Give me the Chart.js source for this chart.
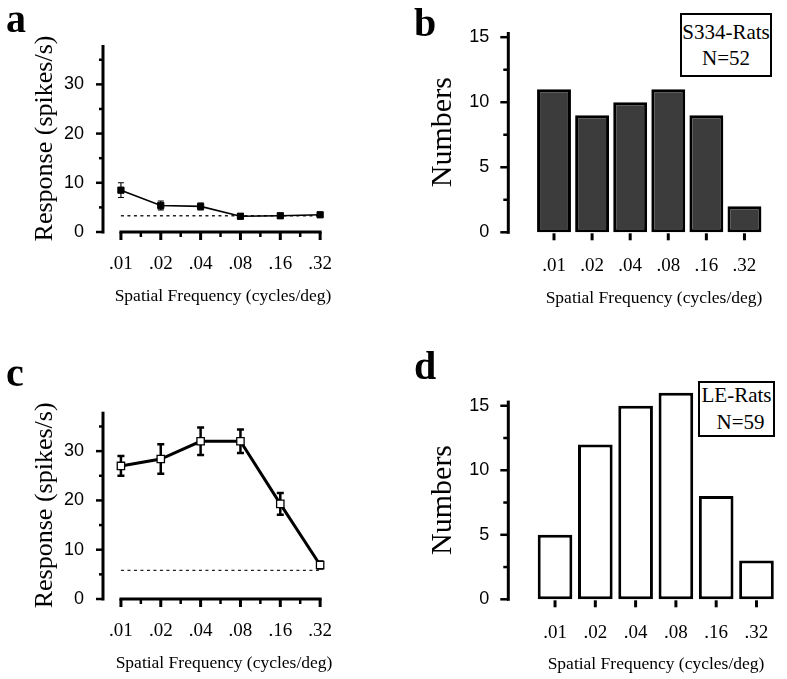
<!DOCTYPE html>
<html><head><meta charset="utf-8">
<script src="https://cdn.jsdelivr.net/npm/chart.js@4.4.1/dist/chart.umd.min.js"></script>
<style>
html,body{margin:0;padding:0;background:#fff;width:787px;height:679px;overflow:hidden;position:relative;}
canvas{position:absolute;}
.lab{position:absolute;font-family:"Liberation Serif",serif;font-weight:bold;font-size:40px;line-height:1;color:#000;}
.box{position:absolute;box-sizing:border-box;border:2px solid #000;font-family:"Liberation Serif",serif;font-size:21px;color:#000;background:#fff;}
.box span{position:absolute;left:0;right:0;text-align:center;line-height:24px;white-space:nowrap;}
.xt{position:absolute;width:300px;text-align:center;font-family:"Liberation Serif",serif;font-size:17.5px;line-height:21px;color:#000;white-space:nowrap;}
</style></head><body>
<canvas id="ca" width="345" height="320" style="left:0;top:0;width:345px;height:320px"></canvas>
<canvas id="cb" width="394" height="330" style="left:393px;top:0;width:394px;height:330px"></canvas>
<canvas id="cc" width="345" height="329" style="left:0;top:350px;width:345px;height:329px"></canvas>
<canvas id="cd" width="394" height="329" style="left:393px;top:350px;width:394px;height:329px"></canvas>
<div class="lab" style="left:6px;top:-1px">a</div>
<div class="lab" style="left:414px;top:3px">b</div>
<div class="lab" style="left:6px;top:353px">c</div>
<div class="lab" style="left:414px;top:346px">d</div>
<div class="xt" style="left:73px;top:285px">Spatial Frequency (cycles/deg)</div>
<div class="xt" style="left:504px;top:287px">Spatial Frequency (cycles/deg)</div>
<div class="xt" style="left:74px;top:652px">Spatial Frequency (cycles/deg)</div>
<div class="xt" style="left:506px;top:653px">Spatial Frequency (cycles/deg)</div>
<div class="box" style="left:680px;top:13px;width:92px;height:64px"><span style="top:5px">S334-Rats</span><span style="top:31px">N=52</span></div>
<div class="box" style="left:698px;top:381px;width:77px;height:56px"><span style="top:0px">LE-Rats</span><span style="top:27px;padding-left:8px">N=59</span></div>
<script>
// ---- data ----
const freqLabels = ['.01', '.02', '.04', '.08', '.16', '.32'];
// panel a: S334 rats, mean response (spikes/s) and error
const s334Response = [8.5, 5.4, 5.2, 3.2, 3.3, 3.5];
const s334Error = [1.5, 0.9, 0.7, 0.5, 0.5, 0.4];
const s334Spont = 3.3;
// panel c: LE rats
const leResponse = [27.0, 28.4, 32.0, 32.0, 19.3, 6.9];
const leError = [2.0, 3.0, 2.8, 2.4, 2.2, 0.7];
const leSpont = 5.8;
// panels b, d: number of cells per preferred spatial frequency
const s334Counts = [11, 9, 10, 11, 9, 2];
const leCounts = [5, 12, 15, 16, 8, 3];
// axis ticks
const responseTicks = [0, 10, 20, 30];
const countTicks = [0, 5, 10, 15];

const SERIF = '"Liberation Serif", "Times New Roman", serif';
const SANS = '"Liberation Sans", Arial, sans-serif';

function minorsOf(majors, max) {
  const step = majors[1] - majors[0];
  return majors.map(m => m + step / 2).filter(v => v <= max);
}

const axisPlugin = {
  id: 'axisDraw',
  beforeDatasetsDraw(chart, args, o) {
    const {ctx, chartArea: ca, scales: {x, y}} = chart;
    const y0 = y.getPixelForValue(0);
    const seg = (x1, y1, x2, y2, w) => { ctx.lineWidth = w; ctx.beginPath(); ctx.moveTo(x1, y1); ctx.lineTo(x2, y2); ctx.stroke(); };
    ctx.save();
    ctx.strokeStyle = '#000'; ctx.lineCap = 'butt';
    seg(ca.left, y0 + 1.5, ca.left, ca.top, o.axisWidth);
    o.yMajor.forEach(v => { const p = y.getPixelForValue(v); seg(ca.left - o.yMajorLen, p, ca.left, p, 2.5); });
    o.yMinor.forEach(v => { const p = y.getPixelForValue(v); seg(ca.left - o.yMinorLen, p, ca.left, p, 2.5); });
    const n = freqLabels.length;
    if (o.xLine) {
      seg(x.getPixelForValue(0) - 1.5, y0, x.getPixelForValue(n - 1) + 1.5, y0, o.axisWidth);
    }
    for (let i = 0; i < n; i++) {
      const p = x.getPixelForValue(i);
      seg(p, y0 + o.xStart, p, y0 + o.xStart + o.xMajorLen, 3);
      if (o.xMinor && i < n - 1) {
        const q = x.getPixelForValue(i + 0.5);
        seg(q, y0 + o.xStart, q, y0 + o.xStart + o.xMinorLen, 2.5);
      }
    }
    ctx.restore();
  }
};

const errorBarPlugin = {
  id: 'errorBars',
  beforeDatasetsDraw(chart, args, o) {
    if (!o.values) return;
    const {ctx, scales: {x, y}} = chart;
    ctx.save();
    ctx.strokeStyle = '#000'; ctx.lineWidth = o.width; ctx.lineCap = 'butt';
    o.values.forEach((v, i) => {
      const e = o.errors[i];
      const px = x.getPixelForValue(i);
      const t = y.getPixelForValue(v + e), b = y.getPixelForValue(v - e);
      ctx.beginPath();
      ctx.moveTo(px, t); ctx.lineTo(px, b);
      ctx.moveTo(px - o.cap / 2, t); ctx.lineTo(px + o.cap / 2, t);
      ctx.moveTo(px - o.cap / 2, b); ctx.lineTo(px + o.cap / 2, b);
      ctx.stroke();
    });
    ctx.restore();
  }
};

function lineChart(id, values, errors, spont, c) {
  const yMax = 38;
  new Chart(document.getElementById(id), {
    type: 'line',
    data: {datasets: [
      {data: values.map((v, i) => ({x: i, y: v})), borderColor: '#000', borderWidth: c.lineWidth,
       pointStyle: 'rect', pointRadius: c.pointRadius, pointBackgroundColor: c.pointFill,
       pointBorderColor: '#000', pointBorderWidth: c.pointBorder, tension: 0, clip: false, order: 0},
      {data: [{x: 0, y: spont}, {x: freqLabels.length - 1, y: spont}], borderColor: '#222',
       borderWidth: 1.3, borderDash: [3, 3.5], pointRadius: 0, clip: false, order: 1}
    ]},
    plugins: [axisPlugin, errorBarPlugin],
    options: {
      responsive: false, animation: false, devicePixelRatio: 1,
      layout: {padding: {left: 0, top: c.padTop, right: c.padRight, bottom: c.padBottom}},
      plugins: {
        legend: {display: false}, tooltip: {enabled: false},
        axisDraw: {axisWidth: 3, yMajor: responseTicks, yMinor: minorsOf(responseTicks, yMax),
                   yMajorLen: 7, yMinorLen: 4, xLine: true, xStart: 0, xMajorLen: 8, xMinor: true, xMinorLen: 5},
        errorBars: {values: values, errors: errors, width: c.errWidth, cap: c.cap}
      },
      scales: {
        x: {type: 'linear', min: -0.45, max: freqLabels.length - 1, offset: false,
            afterBuildTicks: s => { s.ticks = freqLabels.map((_, i) => ({value: i})); },
            afterFit: s => { s.height = c.xHeight; },
            grid: {display: false}, border: {display: false},
            ticks: {autoSkip: false, maxRotation: 0, minRotation: 0, padding: 13, color: '#000',
                    font: {family: SERIF, size: 19}, callback: v => freqLabels[v]},
            title: {display: false}},
        y: {type: 'linear', min: 0, max: yMax,
            afterBuildTicks: s => { s.ticks = responseTicks.map(v => ({value: v})); },
            afterFit: s => { s.width = 103; },
            grid: {display: false}, border: {display: false},
            ticks: {padding: 11, color: '#000', font: {family: SANS, size: 18}},
            title: {display: true, text: 'Response (spikes/s)', color: '#000',
                    font: {family: SERIF, size: 26, weight: 'normal'}, padding: {top: 29.4, bottom: 0}}}
      }
    }
  });
}

function barChart(id, counts, c) {
  const yMax = 15.4;
  new Chart(document.getElementById(id), {
    type: 'bar',
    data: {datasets: [{data: counts.map((v, i) => ({x: i, y: v})), backgroundColor: c.fill,
      borderColor: '#000', borderWidth: 3, borderSkipped: false,
      categoryPercentage: 1, barPercentage: c.barPct, clip: false}]},
    plugins: [axisPlugin],
    options: {
      responsive: false, animation: false, devicePixelRatio: 1,
      layout: {padding: {left: 0, top: c.padTop, right: c.padRight, bottom: c.padBottom}},
      plugins: {
        legend: {display: false}, tooltip: {enabled: false},
        axisDraw: {axisWidth: 3, yMajor: countTicks, yMinor: minorsOf(countTicks, yMax),
                   yMajorLen: 8, yMinorLen: 5, xLine: false, xStart: 1, xMajorLen: 7, xMinor: false}
      },
      scales: {
        x: {type: 'linear', min: c.xMin, max: c.xMax, offset: false,
            afterBuildTicks: s => { s.ticks = freqLabels.map((_, i) => ({value: i})); },
            afterFit: s => { s.height = c.xHeight; },
            grid: {display: false}, border: {display: false},
            ticks: {autoSkip: false, maxRotation: 0, minRotation: 0, padding: 14, color: '#000',
                    font: {family: SERIF, size: 19}, callback: v => freqLabels[v]},
            title: {display: false}},
        y: {type: 'linear', min: 0, max: yMax,
            afterBuildTicks: s => { s.ticks = countTicks.map(v => ({value: v})); },
            afterFit: s => { s.width = 115.3; },
            grid: {display: false}, border: {display: false},
            ticks: {padding: 11, color: '#000', font: {family: SANS, size: 18}},
            title: {display: true, text: 'Numbers', color: '#000',
                    font: {family: SERIF, size: 30, weight: 'normal'}, padding: {top: 32, bottom: 0}}}
      }
    }
  });
}

lineChart('ca', s334Response, s334Error, s334Spont,
  {lineWidth: 1.6, pointRadius: 4.4, pointFill: '#000', pointBorder: 1, errWidth: 1.1, cap: 6,
   padTop: 45, padRight: 22, padBottom: 13.5, xHeight: 74.5});
lineChart('cc', leResponse, leError, leSpont,
  {lineWidth: 3, pointRadius: 5.2, pointFill: '#fff', pointBorder: 1.3, errWidth: 2.5, cap: 7,
   padTop: 61.7, padRight: 22, padBottom: 5.5, xHeight: 74.5});
barChart('cb', s334Counts,
  {fill: '#3c3c3c', barPct: 0.89, xMin: -1.2, xMax: 5.5,
   padTop: 32, padRight: 23.5, padBottom: 21.7, xHeight: 76});
barChart('cd', leCounts,
  {fill: '#ffffff', barPct: 0.86, xMin: -1.16, xMax: 5.45,
   padTop: 50.6, padRight: 12.4, padBottom: 4.5, xHeight: 75.2});
</script>
</body></html>
